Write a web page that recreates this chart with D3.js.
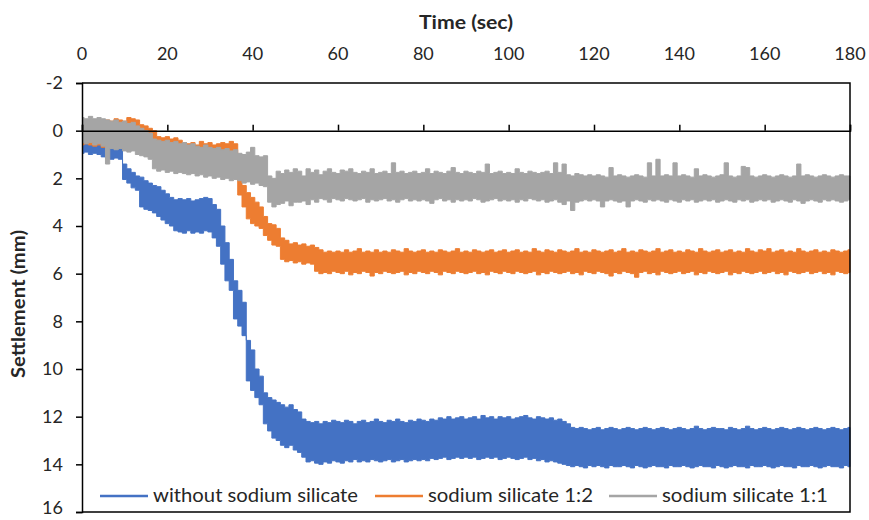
<!DOCTYPE html>
<html><head><meta charset="utf-8">
<script src="https://cdn.jsdelivr.net/npm/d3@7"></script>
<style>body{margin:0;background:#fff}text{font-family:Lato,"Open Sans",sans-serif;fill:#262626}</style>
</head><body><svg id="c" width="869" height="520"></svg>
<script>
const seriesNames = ["without sodium silicate","sodium silicate 1:2","sodium silicate 1:1"];
const seriesColors = ["#4472C4","#ED7D31","#A5A5A5"];
const xTicks = [0,20,40,60,80,100,120,140,160,180];
const yTicks = [-2,0,2,4,6,8,10,12,14,16];
const time = d3.range(0,181,1);

const blueTop = [0.45,0.5,0.45,0.5,0.55,0.7,0.75,0.7,0.8,0.75,
1.4,1.6,1.75,1.9,1.95,2.1,2.2,2.3,2.35,2.5,
2.65,2.8,2.9,2.85,2.9,2.85,2.95,2.9,2.85,2.8,
2.85,3.1,3.3,4.0,4.7,5.4,6.3,6.7,7.2,8.8,
9.2,10.0,10.3,11.0,11.2,11.3,11.4,11.5,11.6,11.5,
11.7,11.8,12.1,12.2,12.25,12.2,12.3,12.2,12.25,12.15,
12.2,12.25,12.15,12.2,12.3,12.2,12.15,12.25,12.2,12.1,
12.2,12.25,12.15,12.2,12.1,12.2,12.25,12.15,12.2,12.1,
12.15,12.2,12.1,12.15,12.05,12.1,12.0,12.1,12.05,12.0,
12.1,12.05,12.0,12.1,11.95,12.05,12.0,12.1,12.0,12.05,
12.0,12.1,12.05,12.0,11.95,12.05,12.1,12.0,12.05,12.1,
12.05,12.15,12.1,12.2,12.3,12.45,12.5,12.45,12.5,12.55,
12.5,12.45,12.55,12.5,12.45,12.5,12.55,12.5,12.45,12.5,
12.55,12.5,12.45,12.5,12.55,12.5,12.45,12.5,12.55,12.5,
12.45,12.5,12.55,12.5,12.4,12.5,12.55,12.5,12.45,12.5,
12.5,12.55,12.45,12.5,12.55,12.5,12.4,12.5,12.55,12.5,
12.45,12.5,12.55,12.5,12.45,12.5,12.55,12.5,12.45,12.5,
12.55,12.5,12.45,12.5,12.55,12.5,12.45,12.5,12.55,12.5,
12.45];
const blueBottom = [0.95,0.9,1.0,0.95,1.0,1.1,1.15,1.2,1.15,1.2,
2.05,2.2,2.4,2.5,3.2,3.3,3.35,3.45,3.6,3.75,
3.9,4.0,4.2,4.25,4.3,4.2,4.3,4.25,4.3,4.2,
4.25,4.5,4.85,5.6,6.3,6.7,7.9,8.2,8.6,10.5,
10.9,11.2,11.5,12.3,12.6,12.9,13.0,13.2,13.3,13.2,
13.4,13.5,13.7,13.9,13.85,13.95,14.0,13.9,13.95,13.85,
13.9,13.95,13.85,13.9,13.8,13.9,13.85,13.9,13.8,13.85,
13.9,13.85,13.8,13.9,13.85,13.8,13.9,13.85,13.8,13.85,
13.8,13.85,13.75,13.8,13.75,13.7,13.8,13.75,13.7,13.75,
13.7,13.75,13.7,13.8,13.75,13.7,13.75,13.7,13.8,13.75,
13.7,13.75,13.8,13.75,13.7,13.8,13.75,13.85,13.8,13.9,
13.85,13.9,13.95,14.0,14.05,14.1,14.05,14.1,14.15,14.05,
14.1,14.05,14.1,14.15,14.05,14.1,14.1,14.05,14.1,14.15,
14.05,14.1,14.15,14.1,14.05,14.1,14.1,14.15,14.05,14.1,
14.1,14.05,14.1,14.15,14.1,14.05,14.1,14.1,14.15,14.05,
14.1,14.15,14.1,14.05,14.1,14.1,14.15,14.05,14.1,14.1,
14.05,14.1,14.15,14.1,14.05,14.1,14.1,14.15,14.05,14.1,
14.1,14.05,14.1,14.15,14.1,14.05,14.1,14.1,14.15,14.05,
14.1];

const orangeTop = [-0.35,-0.3,-0.35,-0.4,-0.35,-0.4,-0.45,-0.4,-0.5,-0.45,
-0.4,-0.55,-0.5,-0.45,-0.25,-0.2,-0.1,0.0,0.25,0.3,
0.25,0.35,0.3,0.4,0.5,0.55,0.5,0.6,0.45,0.55,
0.5,0.6,0.55,0.5,0.55,0.45,0.55,2.0,2.3,2.6,
2.8,3.0,3.2,3.6,3.9,3.95,4.1,4.5,4.6,4.75,
4.7,4.8,4.75,4.85,4.8,4.9,5.0,5.1,5.05,5.1,
5.05,5.1,5.0,5.1,5.05,4.95,5.1,5.05,5.1,5.0,
5.1,5.05,5.1,5.0,5.05,5.1,4.95,5.05,5.1,5.05,
5.0,5.1,5.05,5.1,5.0,5.05,5.1,5.05,4.95,5.1,
5.05,5.1,5.0,5.05,5.1,5.05,5.0,5.1,5.05,5.0,
5.1,5.05,5.0,5.1,5.05,5.1,4.95,5.05,5.1,5.0,
5.05,5.1,5.0,5.05,5.1,5.05,4.95,5.1,5.05,5.1,
5.0,5.05,5.1,5.05,5.0,5.1,5.05,4.95,5.1,5.05,
5.1,5.0,5.05,5.1,5.05,4.95,5.1,5.05,5.0,5.1,
5.05,5.1,5.0,5.05,5.1,4.95,5.05,5.1,5.05,5.0,
5.1,5.05,5.0,5.1,5.05,5.1,4.95,5.05,5.1,5.0,
5.05,4.95,5.1,5.05,5.0,5.1,5.05,5.1,4.95,5.05,
5.1,5.05,5.0,5.1,5.05,5.1,5.0,5.05,5.1,5.05,
5.0];
const orangeBottom = [0.6,0.55,0.6,0.65,0.6,0.7,0.65,0.7,0.75,0.7,
0.75,0.7,0.75,0.8,0.8,0.85,0.8,0.85,0.9,0.85,
0.9,0.95,0.9,0.95,1.0,0.95,1.0,0.95,1.0,0.95,
1.0,0.95,1.0,1.05,1.0,0.95,1.0,2.7,3.2,3.7,
3.9,4.0,4.1,4.4,4.6,4.8,4.85,5.4,5.5,5.45,
5.55,5.5,5.6,5.55,5.6,5.9,6.0,5.95,6.0,5.9,
5.95,6.0,5.9,6.05,5.95,6.0,5.9,5.95,6.1,5.95,
6.0,5.9,5.95,6.0,5.95,5.9,6.05,5.95,6.0,5.9,
5.95,6.0,5.9,5.95,6.05,5.9,5.95,6.0,5.9,5.95,
6.0,5.95,5.9,6.0,5.95,6.05,5.9,5.95,6.0,5.9,
5.95,6.0,5.9,5.95,6.0,5.95,5.9,6.05,5.95,6.0,
5.9,5.95,6.0,5.95,5.9,6.0,5.95,6.05,5.9,5.95,
6.0,5.9,5.95,6.0,6.1,5.95,6.0,5.9,5.95,6.0,
6.15,5.95,5.9,6.0,5.95,6.05,5.9,5.95,6.0,5.95,
5.9,6.0,5.95,5.9,6.05,5.95,6.0,5.9,5.95,6.0,
5.95,5.9,6.05,5.95,6.0,5.9,5.95,6.0,5.95,5.9,
6.0,5.95,5.9,6.0,5.95,6.05,5.9,5.95,6.0,5.95,
5.9,6.0,5.95,5.9,6.0,5.95,6.05,5.9,5.95,6.0,
5.95];

const grayTop = [-0.55,-0.5,-0.6,-0.5,-0.55,-0.5,-0.45,-0.4,-0.45,-0.35,
-0.4,-0.3,-0.35,-0.2,-0.1,0.0,0.1,0.35,0.4,0.45,
0.4,0.5,0.45,0.55,0.5,0.6,0.55,0.65,0.7,0.6,
0.7,0.75,0.7,0.8,0.75,0.85,0.8,0.95,1.0,0.9,
0.7,1.05,1.1,1.05,1.9,2.0,1.7,1.8,1.65,1.75,
1.6,1.7,1.9,1.6,1.75,1.65,1.85,1.7,1.6,1.75,
1.8,1.65,1.7,1.6,1.75,1.8,1.7,1.75,1.6,1.8,
1.75,1.7,1.8,1.35,1.75,1.7,1.8,1.75,1.7,1.8,
1.75,1.6,1.8,1.7,1.75,1.8,1.7,1.55,1.75,1.8,
1.7,1.75,1.8,1.7,1.75,1.4,1.8,1.75,1.7,1.8,
1.75,1.8,1.6,1.75,1.8,1.7,1.75,1.8,1.75,1.7,
1.8,1.35,1.75,1.4,1.85,1.9,1.8,1.85,1.9,1.85,
1.9,1.85,1.9,1.95,1.55,1.9,1.85,1.9,1.95,1.9,
1.85,1.9,1.95,1.35,1.9,1.2,1.9,1.85,1.9,1.35,
1.9,1.85,1.9,1.95,1.6,1.9,1.85,1.9,1.95,1.9,
1.85,1.35,1.9,1.95,1.9,1.5,1.55,1.9,1.95,1.9,
1.85,1.9,1.95,1.9,1.85,1.9,1.95,1.9,1.4,1.9,
1.85,1.9,1.95,1.9,1.85,1.9,1.95,1.9,1.85,1.9,
1.9];
const grayBottom = [0.5,0.55,0.5,0.6,0.55,0.65,1.4,0.75,0.8,0.75,
0.85,0.9,0.85,1.0,1.05,1.1,1.2,1.6,1.7,1.65,
1.75,1.7,1.8,1.75,1.8,1.85,1.8,1.9,1.85,1.95,
1.9,2.0,1.95,2.05,2.0,2.1,2.05,2.1,2.2,2.15,
2.25,2.2,2.3,2.35,3.0,3.2,3.1,3.05,2.95,3.15,
3.0,3.0,2.95,3.1,2.9,3.0,2.85,2.9,3.0,2.85,
2.9,2.95,2.85,2.9,2.95,2.9,2.85,3.0,2.9,2.95,
2.9,2.85,2.95,2.9,3.0,2.9,2.85,2.95,2.9,2.95,
2.9,2.95,3.05,2.9,2.85,2.95,2.9,3.0,2.9,2.95,
2.9,2.95,2.85,2.9,3.0,2.95,2.9,2.85,2.95,2.9,
2.95,2.9,3.0,2.9,2.95,2.85,2.9,2.95,2.9,3.0,
2.95,2.9,3.0,3.1,2.95,3.35,3.0,2.95,2.9,2.95,
2.9,2.95,3.2,2.95,2.9,2.95,3.0,2.95,3.2,2.95,
2.9,2.95,3.0,2.9,2.95,2.9,2.95,3.0,2.9,2.95,
3.0,2.9,2.95,2.9,3.0,2.95,2.9,2.95,2.9,3.0,
2.95,2.9,2.95,3.0,2.9,2.95,2.9,3.0,2.95,2.9,
2.95,2.9,3.0,2.95,2.9,2.95,3.0,2.9,2.95,3.05,
2.95,2.9,2.95,3.0,2.9,2.95,2.9,2.95,3.0,2.95,
2.9];

const svg = d3.select("#c");
const L = 82, R = 850, T = 83, B = 512;
const x = d3.scaleLinear().domain([0,180]).range([L,R]);
const y = d3.scaleLinear().domain([-2,16]).range([T,B]);

svg.append("defs").append("clipPath").attr("id","clip")
  .append("rect").attr("x",L).attr("y",T).attr("width",R-L+1).attr("height",B-T);

const series = [
  {top: blueTop, bottom: blueBottom},
  {top: orangeTop, bottom: orangeBottom},
  {top: grayTop, bottom: grayBottom}
];
const area = d3.area()
  .x((d,i)=>x(time[i]))
  .y0(d=>y(d[0])).y1(d=>y(d[1]))
  .curve(d3.curveStep);
const g = svg.append("g").attr("clip-path","url(#clip)");
series.forEach((s,k)=>{
  const pts = time.map((t,i)=>[s.top[i], s.bottom[i]]);
  g.append("path").attr("d", area(pts)).attr("fill", seriesColors[k])
   .attr("stroke", seriesColors[k]).attr("stroke-width",1);
});

// top x axis at y=0
const xAxis = svg.append("g").attr("transform",`translate(0,${y(0)})`)
  .call(d3.axisTop(x).tickValues(xTicks).tickSize(6).tickFormat(""));
xAxis.select(".domain").attr("stroke","#000").attr("stroke-width",1.5);
xAxis.selectAll(".tick line").attr("stroke","#000").attr("stroke-width",1.5);
svg.append("g").selectAll("text").data(xTicks).join("text")
  .attr("x",d=>x(d)).attr("y",60).attr("text-anchor","middle")
  .attr("font-size",18).text(d=>String(d));

// left y axis
const yAxis = svg.append("g").attr("transform",`translate(${L},0)`)
  .call(d3.axisLeft(y).tickValues(yTicks).tickSize(6).tickPadding(13).tickFormat(d=>String(d)));
yAxis.select(".domain").attr("stroke","#000").attr("stroke-width",1.5);
yAxis.selectAll(".tick line").attr("stroke","#000").attr("stroke-width",1.5);
yAxis.selectAll(".tick text").attr("font-size",18).attr("font-family","Lato, sans-serif").attr("fill","#262626")
  .attr("dy",d=>d===16?"0.1em":"0.32em");

// border
svg.append("path").attr("d",`M${L},${T}H${R}V${B}H${L}`).attr("fill","none")
  .attr("stroke","#000").attr("stroke-width",1.5);

// titles
svg.append("text").attr("x",466).attr("y",29).attr("text-anchor","middle")
  .attr("font-size",19).attr("font-weight","bold")
  .attr("textLength",94).attr("lengthAdjust","spacingAndGlyphs").text("Time (sec)");
svg.append("text").attr("transform","translate(25,304) rotate(-90)").attr("text-anchor","middle")
  .attr("font-size",19).attr("font-weight","bold")
  .attr("textLength",148).attr("lengthAdjust","spacingAndGlyphs").text("Settlement (mm)");

// legend
const legX = [100,375,609];
const legW = [205,165,166];
const leg = svg.append("g");
seriesNames.forEach((n,k)=>{
  leg.append("line").attr("x1",legX[k]).attr("x2",legX[k]+48).attr("y1",496).attr("y2",496)
    .attr("stroke",seriesColors[k]).attr("stroke-width",2.5);
  leg.append("text").attr("x",legX[k]+53).attr("y",502).attr("font-size",19)
    .attr("textLength",legW[k]).attr("lengthAdjust","spacingAndGlyphs").text(n);
});
</script></body></html>
